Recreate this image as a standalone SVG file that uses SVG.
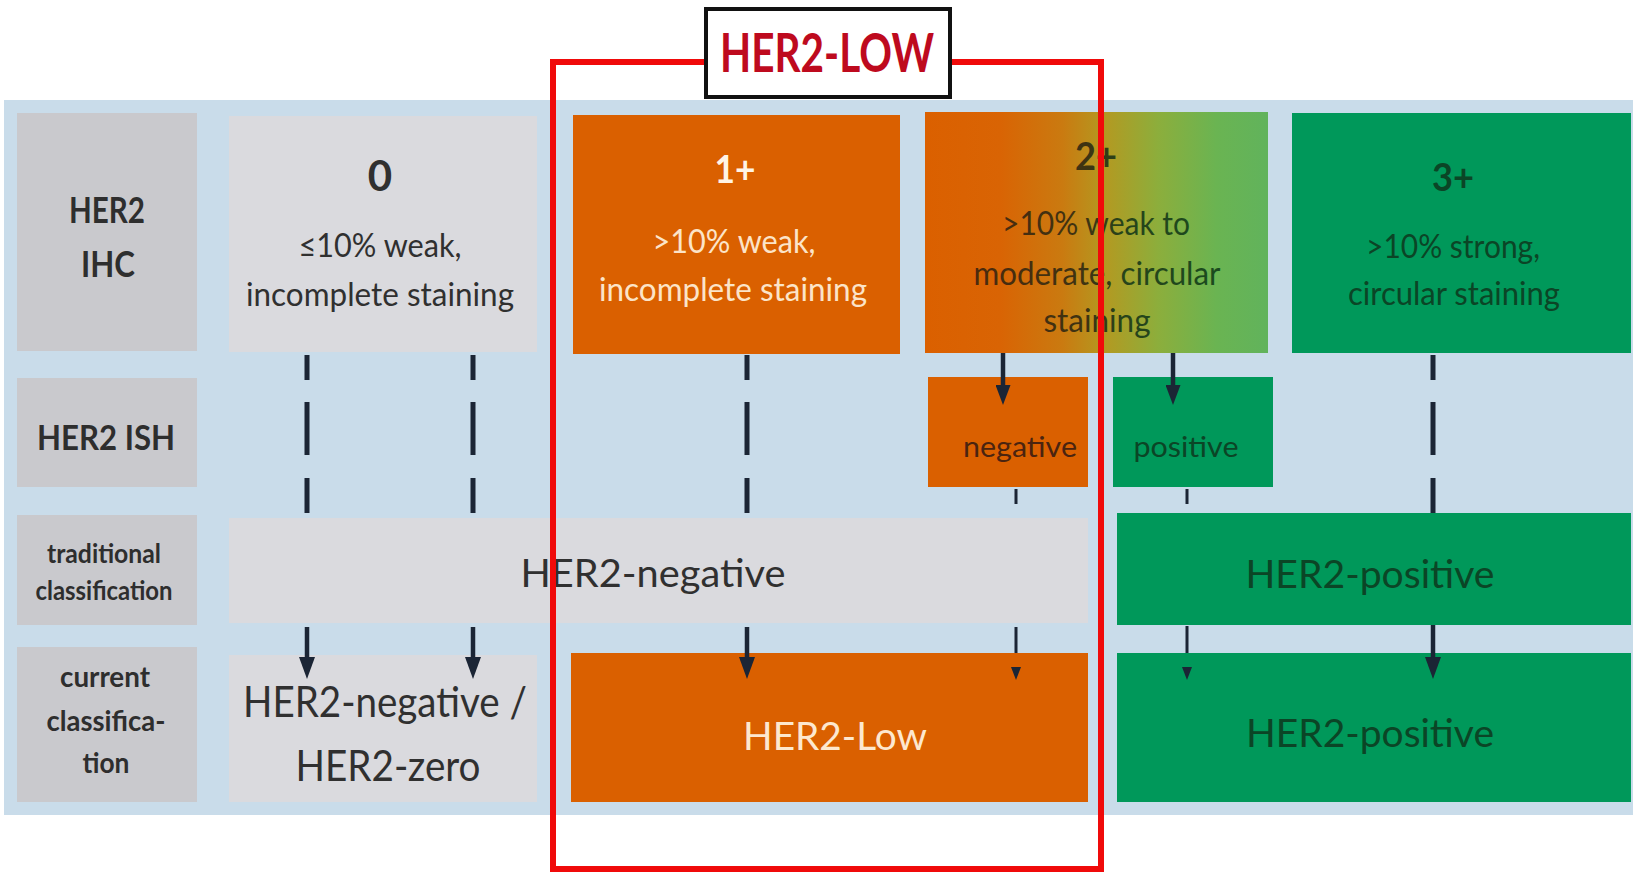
<svg xmlns="http://www.w3.org/2000/svg" width="1633" height="877" viewBox="0 0 1633 877">
<defs>
<style>
text{font-family:Lato,"Open Sans","Liberation Sans",sans-serif;text-anchor:middle}
.b{font-weight:700}
.lab{fill:#C9C9CD}
.lbl{fill:#2E2E2E;font-weight:700}
.gray{fill:#DADADE}
.or{fill:#DA6000}
.gr{fill:#00985A}
.dk{fill:#303030}
.cream{fill:#FCE4C8}
.gtx{fill:#0B4526}
.dash{stroke:#1B2535;stroke-width:5;fill:none}
.arr{stroke:#1B2535;stroke-width:4.5;fill:none}
.arrs{stroke:#1B2535;stroke-width:3;fill:none}
</style>
<linearGradient id="g2" gradientUnits="userSpaceOnUse" x1="925" y1="0" x2="1268" y2="0">
<stop offset="0" stop-color="#DB6000"/>
<stop offset="0.22" stop-color="#D96404"/>
<stop offset="0.4" stop-color="#CA7A10"/>
<stop offset="0.53" stop-color="#B29A22"/>
<stop offset="0.68" stop-color="#8CAE3C"/>
<stop offset="0.85" stop-color="#6AB452"/>
<stop offset="1" stop-color="#61B35C"/>
</linearGradient>
<linearGradient id="t2" gradientUnits="userSpaceOnUse" x1="975" y1="0" x2="1220" y2="0">
<stop offset="0" stop-color="#4B2A0E"/>
<stop offset="0.45" stop-color="#3E3312"/>
<stop offset="0.6" stop-color="#27431A"/>
<stop offset="1" stop-color="#1A4A1E"/>
</linearGradient>
<marker id="ab" viewBox="0 -8 22 16" refX="0" refY="0" markerWidth="22" markerHeight="16" markerUnits="userSpaceOnUse" orient="auto">
<path d="M0,-8 L22,0 L0,8 z" fill="#1B2535"/>
</marker>
<marker id="am" viewBox="0 -7.5 20 15" refX="0" refY="0" markerWidth="20" markerHeight="15" markerUnits="userSpaceOnUse" orient="auto">
<path d="M0,-7.5 L20,0 L0,7.5 z" fill="#1B2535"/>
</marker>
<marker id="as" viewBox="0 -5 13 10" refX="0" refY="0" markerWidth="13" markerHeight="10" markerUnits="userSpaceOnUse" orient="auto">
<path d="M0,-5 L13,0 L0,5 z" fill="#1B2535"/>
</marker>
</defs>

<rect x="0" y="0" width="1633" height="877" fill="#FFFFFF"/>
<g id="panel"><rect x="4" y="100" width="1629" height="715" fill="#C9DCEA"/></g>

<g id="label-ihc">
<rect class="lab" x="17" y="113" width="180" height="238"/>
<text class="lbl" x="107" y="223" font-size="37" textLength="76" lengthAdjust="spacingAndGlyphs">HER2</text>
<text class="lbl" x="108" y="277" font-size="37" textLength="54" lengthAdjust="spacingAndGlyphs">IHC</text>
</g>
<g id="label-ish">
<rect class="lab" x="17" y="378" width="180" height="109"/>
<text class="lbl" x="106" y="450" font-size="35" textLength="138" lengthAdjust="spacingAndGlyphs">HER2 ISH</text>
</g>
<g id="label-trad">
<rect class="lab" x="17" y="515" width="180" height="110"/>
<text class="lbl" x="104" y="563" font-size="26" textLength="114" lengthAdjust="spacingAndGlyphs">traditional</text>
<text class="lbl" x="104" y="600" font-size="26" textLength="137" lengthAdjust="spacingAndGlyphs">classification</text>
</g>
<g id="label-current">
<rect class="lab" x="17" y="647" width="180" height="155"/>
<text class="lbl" x="105" y="687" font-size="28" textLength="90" lengthAdjust="spacingAndGlyphs">current</text>
<text class="lbl" x="106" y="731" font-size="28" textLength="119" lengthAdjust="spacingAndGlyphs">classifica-</text>
<text class="lbl" x="106" y="773" font-size="28" textLength="47" lengthAdjust="spacingAndGlyphs">tion</text>
</g>

<g id="node-ihc-0">
<rect class="gray" x="229" y="116" width="308" height="236"/>
<text class="dk b" x="380" y="191" font-size="42">0</text>
<text class="dk" x="380" y="257" font-size="32" textLength="163" lengthAdjust="spacingAndGlyphs">≤10% weak,</text>
<text class="dk" x="380" y="306" font-size="32" textLength="268" lengthAdjust="spacingAndGlyphs">incomplete staining</text>
</g>
<g id="node-ihc-1plus">
<rect class="or" x="573" y="115" width="327" height="239"/>
<text class="b" x="735" y="183" font-size="38" fill="#FFF4E6" textLength="41" lengthAdjust="spacingAndGlyphs">1+</text>
<text class="cream" x="734" y="253" font-size="32" textLength="163" lengthAdjust="spacingAndGlyphs">&gt;10% weak,</text>
<text class="cream" x="733" y="301" font-size="32" textLength="268" lengthAdjust="spacingAndGlyphs">incomplete staining</text>
</g>
<g id="node-ihc-2plus">
<rect x="925" y="112" width="343" height="241" fill="url(#g2)"/>
<text class="b" x="1096" y="170" font-size="38" fill="url(#t2)" textLength="42" lengthAdjust="spacingAndGlyphs">2+</text>
<text x="1096" y="235" font-size="32" fill="url(#t2)" textLength="188" lengthAdjust="spacingAndGlyphs">&gt;10% weak to</text>
<text x="1097" y="285" font-size="32" fill="url(#t2)" textLength="247" lengthAdjust="spacingAndGlyphs">moderate, circular</text>
<text x="1097" y="332" font-size="32" fill="url(#t2)" textLength="107" lengthAdjust="spacingAndGlyphs">staining</text>
</g>
<g id="node-ihc-3plus">
<rect class="gr" x="1292" y="113" width="339" height="240"/>
<text class="gtx b" x="1453" y="191" font-size="38" textLength="42" lengthAdjust="spacingAndGlyphs">3+</text>
<text class="gtx" x="1453" y="258" font-size="32" textLength="174" lengthAdjust="spacingAndGlyphs">&gt;10% strong,</text>
<text class="gtx" x="1454" y="305" font-size="32" textLength="212" lengthAdjust="spacingAndGlyphs">circular staining</text>
</g>

<g id="node-ish-negative">
<rect class="or" x="928" y="377" width="160" height="110"/>
<text x="1020" y="457" font-size="29" fill="#4A2410" textLength="114" lengthAdjust="spacingAndGlyphs">negative</text>
</g>
<g id="node-ish-positive">
<rect class="gr" x="1113" y="377" width="160" height="110"/>
<text class="gtx" x="1186" y="457" font-size="29" textLength="105" lengthAdjust="spacingAndGlyphs">positive</text>
</g>

<g id="node-trad-negative">
<rect class="gray" x="229" y="518" width="859" height="105"/>
<text class="dk" x="653" y="587" font-size="39" textLength="265" lengthAdjust="spacingAndGlyphs">HER2-negative</text>
</g>
<g id="node-trad-positive">
<rect class="gr" x="1117" y="513" width="514" height="112"/>
<text class="gtx" x="1370" y="588" font-size="39" textLength="249" lengthAdjust="spacingAndGlyphs">HER2-positive</text>
</g>

<g id="node-cur-zero">
<rect class="gray" x="229" y="655" width="308" height="147"/>
<text class="dk" x="385" y="717" font-size="42" textLength="284" lengthAdjust="spacingAndGlyphs">HER2-negative /</text>
<text class="dk" x="388" y="781" font-size="42" textLength="185" lengthAdjust="spacingAndGlyphs">HER2-zero</text>
</g>
<g id="node-cur-low">
<rect class="or" x="571" y="653" width="517" height="149"/>
<text x="835" y="750" font-size="38" fill="#FDE8CF" textLength="184" lengthAdjust="spacingAndGlyphs">HER2-Low</text>
</g>
<g id="node-cur-positive">
<rect class="gr" x="1117" y="653" width="514" height="149"/>
<text class="gtx" x="1370" y="747" font-size="39" textLength="248" lengthAdjust="spacingAndGlyphs">HER2-positive</text>
</g>

<g id="connectors">
<path class="dash" d="M307,355 V380 M307,402 V455 M307,478 V513"/>
<path class="dash" d="M473,355 V380 M473,402 V455 M473,478 V513"/>
<path class="dash" d="M747,355 V380 M747,402 V455 M747,478 V513"/>
<path class="dash" d="M1433,355 V380 M1433,402 V455 M1433,478 V513"/>
<path class="arr" d="M1003,353 V385" marker-end="url(#am)"/>
<path class="arr" d="M1173,353 V385" marker-end="url(#am)"/>
<path class="arrs" d="M1016,489 V504"/>
<path class="arrs" d="M1187,489 V504"/>
<path class="arr" d="M307,627 V657" marker-end="url(#ab)"/>
<path class="arr" d="M473,627 V657" marker-end="url(#ab)"/>
<path class="arr" d="M747,627 V657" marker-end="url(#ab)"/>
<path class="arr" d="M1433,625 V657" marker-end="url(#ab)"/>
<path class="arrs" d="M1016,627 V667" stroke-dasharray="26 200" marker-end="url(#as)"/>
<path class="arrs" d="M1187,626 V667" stroke-dasharray="27 200" marker-end="url(#as)"/>
</g>

<g id="her2-low-frame">
<rect x="553" y="62" width="548" height="807" fill="none" stroke="#F00A0A" stroke-width="6"/>
</g>
<g id="her2-low-title">
<rect x="706" y="9" width="244" height="88" fill="#FFFFFF" stroke="#111111" stroke-width="4"/>
<text class="b" x="827" y="72" font-size="53" fill="#BE0A1E" textLength="214" lengthAdjust="spacingAndGlyphs">HER2-LOW</text>
</g>
</svg>
